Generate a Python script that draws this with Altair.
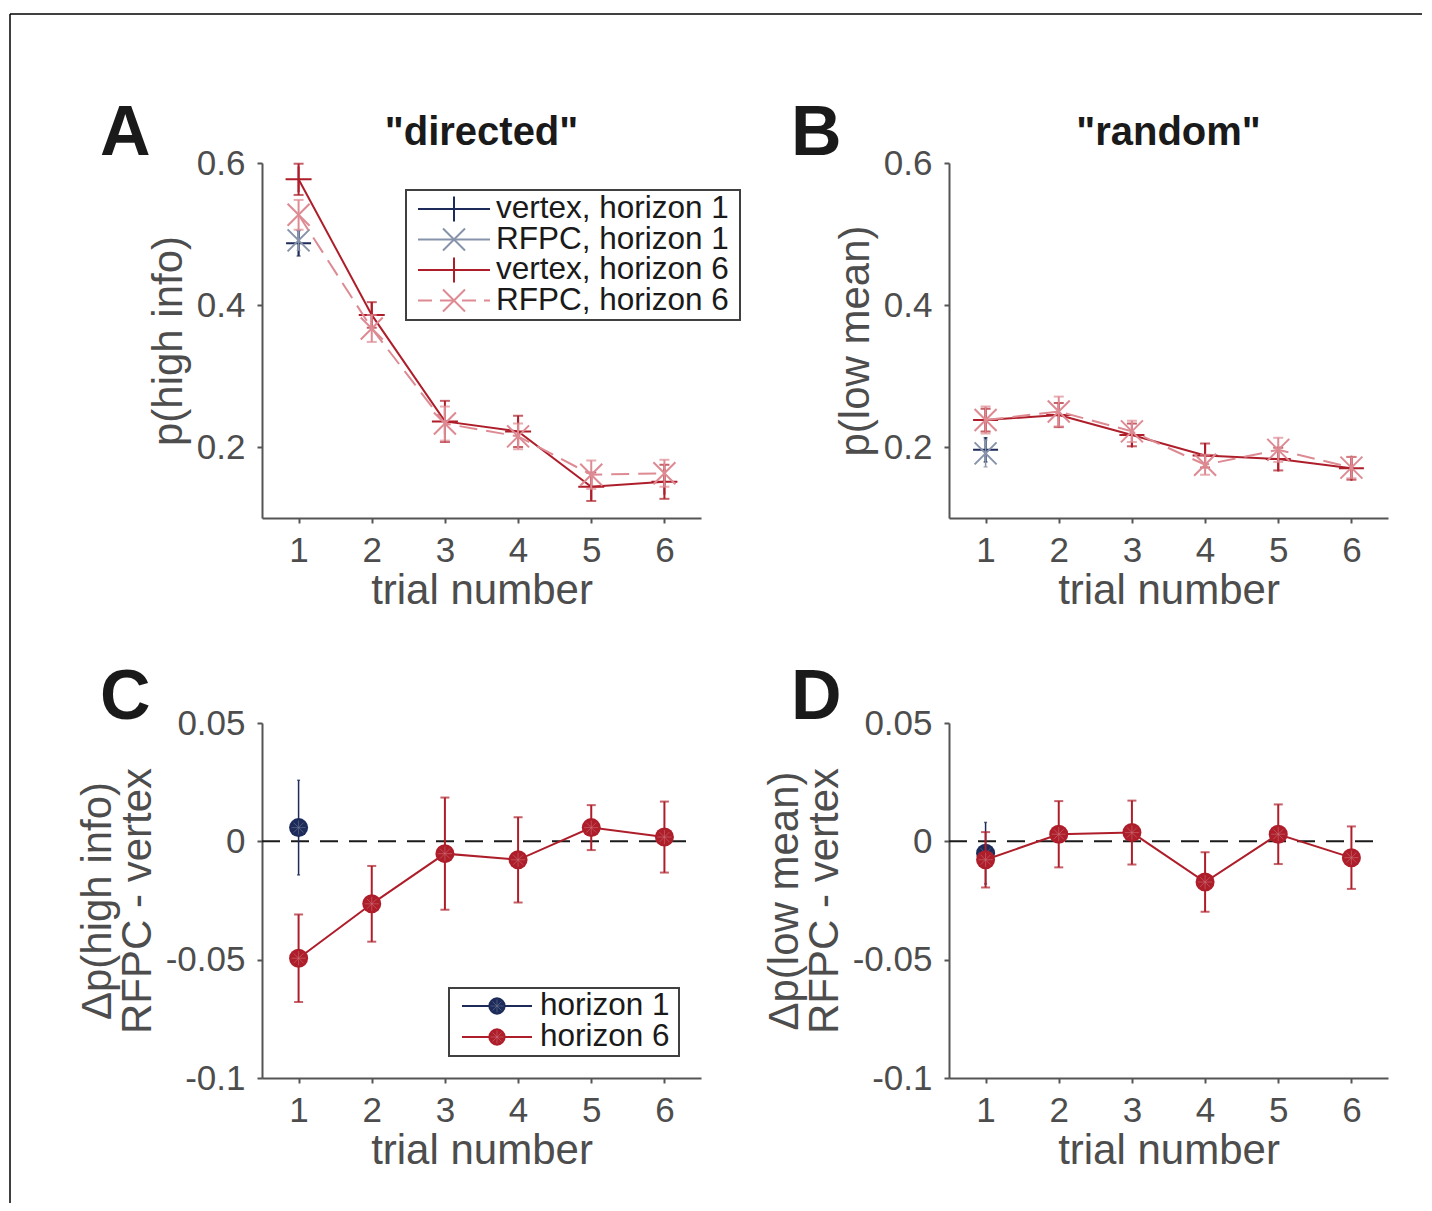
import altair as alt
import pandas as pd

# ---------------- data ----------------
trials = [1, 2, 3, 4, 5, 6]

# Panel A: "directed" -- p(high info)
a_vertex_h1 = [0.487]
a_vertex_h1_err = [0.018]
a_rfpc_h1 = [0.491]
a_rfpc_h1_err = [0.014]
a_vertex_h6 = [0.577, 0.386, 0.236, 0.222, 0.144, 0.151]
a_vertex_h6_err = [0.022, 0.018, 0.029, 0.022, 0.020, 0.024]
a_rfpc_h6 = [0.527, 0.367, 0.233, 0.215, 0.161, 0.163]
a_rfpc_h6_err = [0.021, 0.019, 0.024, 0.018, 0.020, 0.019]

# Panel B: "random" -- p(low mean)
b_vertex_h1 = [0.196]
b_vertex_h1_err = [0.017]
b_rfpc_h1 = [0.191]
b_rfpc_h1_err = [0.019]
b_vertex_h6 = [0.238, 0.245, 0.217, 0.188, 0.183, 0.170]
b_vertex_h6_err = [0.016, 0.017, 0.016, 0.017, 0.016, 0.016]
b_rfpc_h6 = [0.238, 0.250, 0.222, 0.175, 0.196, 0.171]
b_rfpc_h6_err = [0.019, 0.021, 0.015, 0.014, 0.017, 0.015]

# Panel C: delta p(high info), RFPC - vertex
c_h1 = [0.0058]
c_h1_err = [0.020]
c_h6 = [-0.0494, -0.0264, -0.0052, -0.0078, 0.0058, 0.0018]
c_h6_err = [0.0185, 0.016, 0.0237, 0.018, 0.0095, 0.015]

# Panel D: delta p(low mean), RFPC - vertex
d_h1 = [-0.005]
d_h1_err = [0.013]
d_h6 = [-0.0078, 0.003, 0.0037, -0.0172, 0.003, -0.0069]
d_h6_err = [0.0117, 0.014, 0.0135, 0.0126, 0.0126, 0.0132]

zero_level = [0.0]

panel_letters = ["A", "B", "C", "D"]
panel_titles = ['"directed"', '"random"']
top_y_titles = ["p(high info)", "p(low mean)"]
bottom_y_titles = [["\u0394p(high info)", "RFPC - vertex"], ["\u0394p(low mean)", "RFPC - vertex"]]
x_title = "trial number"
legend_top_labels = ["vertex, horizon 1", "RFPC, horizon 1", "vertex, horizon 6", "RFPC, horizon 6"]
legend_bottom_labels = ["horizon 1", "horizon 6"]
top_ticks = [0.2, 0.4, 0.6]
bottom_ticks = [-0.1, -0.05, 0, 0.05]

# ---------------- style ----------------
FONT = "Liberation Sans"
NAVY = "#1c2b59"
GRAY = "#8793aa"
RED = "#ae1e2a"
PINK = "#dd8a93"
INK = "#1a1a1a"
AXIS_GRAY = "#555555"
TEXT_GRAY = "#4d4d4d"
DASH = [18, 9]

PLUS = "M-1,0L1,0M0,-1L0,1"
XSHAPE = "M-1,-1L1,1M-1,1L1,-1"
STAR = "M-1,0L1,0M0,-1L0,1M-0.7,-0.7L0.7,0.7M-0.7,0.7L0.7,-0.7"

W, H = 439, 355


def frame(means, errs):
    t = trials[:len(means)]
    return pd.DataFrame({
        "trial": t,
        "m": means,
        "lo": [m - e for m, e in zip(means, errs)],
        "hi": [m + e for m, e in zip(means, errs)],
    })


def xenc():
    return alt.X("trial:Q",
                 scale=alt.Scale(domain=[0.5, 6.5], nice=False, zero=False),
                 axis=alt.Axis(values=trials, title=x_title, format="d", labelFlush=False))


def make_y(dom, vals, title):
    def yenc(field):
        return alt.Y(f"{field}:Q",
                     scale=alt.Scale(domain=dom, nice=False, zero=False),
                     axis=alt.Axis(values=vals, title=title, labelExpr="'' + datum.value",
                                   labelFlush=False))
    return yenc


def series(df, yenc, color, shape, size, cap, err_w=2, dash=None, line=True,
           filled=False, star=False):
    base = alt.Chart(df)
    out = [
        base.mark_rule(color=color, strokeWidth=err_w).encode(
            x=xenc(), y=yenc("lo"), y2=alt.Y2("hi:Q")),
        base.mark_tick(color=color, orient="horizontal", size=cap, thickness=err_w).encode(
            x=xenc(), y=yenc("hi")),
        base.mark_tick(color=color, orient="horizontal", size=cap, thickness=err_w).encode(
            x=xenc(), y=yenc("lo")),
    ]
    if line:
        kw = dict(color=color, strokeWidth=2)
        if dash:
            kw["strokeDash"] = dash
        out.append(base.mark_line(**kw).encode(x=xenc(), y=yenc("m")))
    if filled:
        out.append(base.mark_point(shape=shape, size=size, filled=True, color=color,
                                   opacity=1).encode(x=xenc(), y=yenc("m")))
    else:
        out.append(base.mark_point(shape=shape, size=size, filled=False, color=color,
                                   strokeWidth=2, opacity=1).encode(x=xenc(), y=yenc("m")))
    if star:
        out.append(base.mark_point(shape=STAR, size=size * 0.55, filled=False, color="#ffffff",
                                   strokeWidth=0.6, opacity=0.35).encode(x=xenc(), y=yenc("m")))
    return out


def one_row():
    return pd.DataFrame({"k": [0]})


def letter_layer(letter, dx, dy):
    return alt.Chart(pd.DataFrame({"label": [letter]})).mark_text(
        font=FONT, fontSize=70, fontWeight="bold", align="left", baseline="alphabetic",
        color=INK).encode(x=alt.value(dx), y=alt.value(dy), text="label:N")


def title_layer(title):
    return alt.Chart(pd.DataFrame({"label": [title]})).mark_text(
        font=FONT, fontSize=40, fontWeight="bold", align="center", baseline="alphabetic",
        color=INK).encode(x=alt.value(W / 2), y=alt.value(-18), text="label:N")


def legend_box(x1, x2, y1, y2):
    return alt.Chart(one_row()).mark_rect(fill="white", stroke="#404040", strokeWidth=2).encode(
        x=alt.value(x1), x2=alt.value(x2), y=alt.value(y1), y2=alt.value(y2))


def legend_entry(label, y, color, shape, size, dash=None, filled=False,
                 lx1=156, lx2=228, mx=192, tx=234, fontsize=31, star=False):
    kw = dict(color=color, strokeWidth=2)
    if dash:
        kw["strokeDash"] = dash
    layers = [alt.Chart(one_row()).mark_rule(**kw).encode(
        x=alt.value(lx1), x2=alt.value(lx2), y=alt.value(y))]
    if filled:
        layers.append(alt.Chart(one_row()).mark_point(shape=shape, size=size, filled=True,
                                                      color=color, opacity=1).encode(
            x=alt.value(mx), y=alt.value(y)))
    else:
        layers.append(alt.Chart(one_row()).mark_point(shape=shape, size=size, filled=False,
                                                      color=color, strokeWidth=2, opacity=1).encode(
            x=alt.value(mx), y=alt.value(y)))
    if star:
        layers.append(alt.Chart(one_row()).mark_point(shape=STAR, size=size * 0.55, filled=False,
                                                      color="#ffffff", strokeWidth=0.6,
                                                      opacity=0.35).encode(
            x=alt.value(mx), y=alt.value(y)))
    layers.append(alt.Chart(pd.DataFrame({"label": [label]})).mark_text(
        font=FONT, fontSize=fontsize, align="left", baseline="middle", color=INK).encode(
        x=alt.value(tx), y=alt.value(y), text="label:N"))
    return layers


# ---------------- panel A ----------------
yA = make_y([0.1, 0.6], top_ticks, top_y_titles[0])
layersA = []
layersA += series(frame(a_vertex_h1, a_vertex_h1_err), yA, NAVY, PLUS, 625, 4, err_w=1.5, line=False)
layersA += series(frame(a_rfpc_h1, a_rfpc_h1_err), yA, GRAY, XSHAPE, 484, 4, err_w=1.5, line=False)
layersA += series(frame(a_vertex_h6, a_vertex_h6_err), yA, RED, PLUS, 676, 10)
layersA += series(frame(a_rfpc_h6, a_rfpc_h6_err), yA, PINK, XSHAPE, 484, 10, dash=DASH)
layersA.append(legend_box(144, 478, 27, 157))
legend_specs = [(NAVY, PLUS, 625, None), (GRAY, XSHAPE, 484, None),
                (RED, PLUS, 625, None), (PINK, XSHAPE, 484, [14, 8])]
for i, (lab, (col, shp, sz, dsh)) in enumerate(zip(legend_top_labels, legend_specs)):
    layersA += legend_entry(lab, 46 + 30.5 * i, col, shp, sz, dash=dsh, fontsize=31.5)
layersA.append(letter_layer(panel_letters[0], -162, -8))
layersA.append(title_layer(panel_titles[0]))
# page frame
layersA.append(alt.Chart(one_row()).mark_rule(color="#000000", strokeWidth=1.5).encode(
    x=alt.value(-252), x2=alt.value(1160), y=alt.value(-149)))
layersA.append(alt.Chart(one_row()).mark_rule(color="#000000", strokeWidth=1.5).encode(
    x=alt.value(-252), y=alt.value(-149), y2=alt.value(1040)))
pA = alt.layer(*layersA).properties(width=W, height=H)

# ---------------- panel B ----------------
yB = make_y([0.1, 0.6], top_ticks, top_y_titles[1])
layersB = []
layersB += series(frame(b_vertex_h1, b_vertex_h1_err), yB, NAVY, PLUS, 625, 4, err_w=1.5, line=False)
layersB += series(frame(b_rfpc_h1, b_rfpc_h1_err), yB, GRAY, XSHAPE, 484, 4, err_w=1.5, line=False)
layersB += series(frame(b_vertex_h6, b_vertex_h6_err), yB, RED, PLUS, 625, 10)
layersB += series(frame(b_rfpc_h6, b_rfpc_h6_err), yB, PINK, XSHAPE, 484, 10, dash=DASH)
layersB.append(letter_layer(panel_letters[1], -158, -8))
layersB.append(title_layer(panel_titles[1]))
pB = alt.layer(*layersB).properties(width=W, height=H)

# ---------------- panel C ----------------
yC = make_y([-0.1, 0.05], bottom_ticks, bottom_y_titles[0])
zero_df = pd.DataFrame({"z": zero_level})
layersC = [alt.Chart(zero_df).mark_rule(color=INK, strokeWidth=2, strokeDash=[18, 11]).encode(
    x=alt.value(0), x2=alt.value(W - 8), y=yC("z"))]
layersC += series(frame(c_h1, c_h1_err), yC, NAVY, "circle", 361, 3, err_w=1.5, line=False,
                  filled=True, star=True)
layersC += series(frame(c_h6, c_h6_err), yC, RED, "circle", 361, 9, filled=True, star=True)
layersC.append(legend_box(187, 417, 265, 333))
for i, (lab, col) in enumerate(zip(legend_bottom_labels, [NAVY, RED])):
    layersC += legend_entry(lab, 283 + 31 * i, col, "circle", 300, filled=True,
                            lx1=200, lx2=270, mx=235, tx=278, fontsize=31.5, star=True)
layersC.append(letter_layer(panel_letters[2], -162, -4))
pC = alt.layer(*layersC).properties(width=W, height=H)

# ---------------- panel D ----------------
yD = make_y([-0.1, 0.05], bottom_ticks, bottom_y_titles[1])
layersD = [alt.Chart(zero_df).mark_rule(color=INK, strokeWidth=2, strokeDash=[18, 11]).encode(
    x=alt.value(0), x2=alt.value(W - 8), y=yD("z"))]
layersD += series(frame(d_h1, d_h1_err), yD, NAVY, "circle", 361, 3, err_w=1.5, line=False,
                  filled=True, star=True)
layersD += series(frame(d_h6, d_h6_err), yD, RED, "circle", 361, 9, filled=True, star=True)
layersD.append(letter_layer(panel_letters[3], -158, -4))
pD = alt.layer(*layersD).properties(width=W, height=H)

chart = alt.concat(pA, pB, pC, pD, columns=2,
                   spacing={"row": 205, "column": 248}, bounds="flush").properties(
    padding={"left": 1, "top": 5, "right": 0, "bottom": 0}
).configure_view(strokeWidth=0).configure_axis(
    grid=False,
    domainColor=AXIS_GRAY, domainWidth=2,
    tickColor=AXIS_GRAY, tickWidth=2, tickSize=5,
    labelFont=FONT, labelFontSize=35, labelColor=TEXT_GRAY, labelPadding=11,
    titleFont=FONT, titleFontSize=42, titleFontWeight="normal", titleColor=TEXT_GRAY,
    titleLineHeight=40,
).configure_axisX(titlePadding=2, labelPadding=10).configure_axisY(titlePadding=6, labelPadding=12)

chart.save("out.html", embed_options={"renderer": "svg", "actions": False})
